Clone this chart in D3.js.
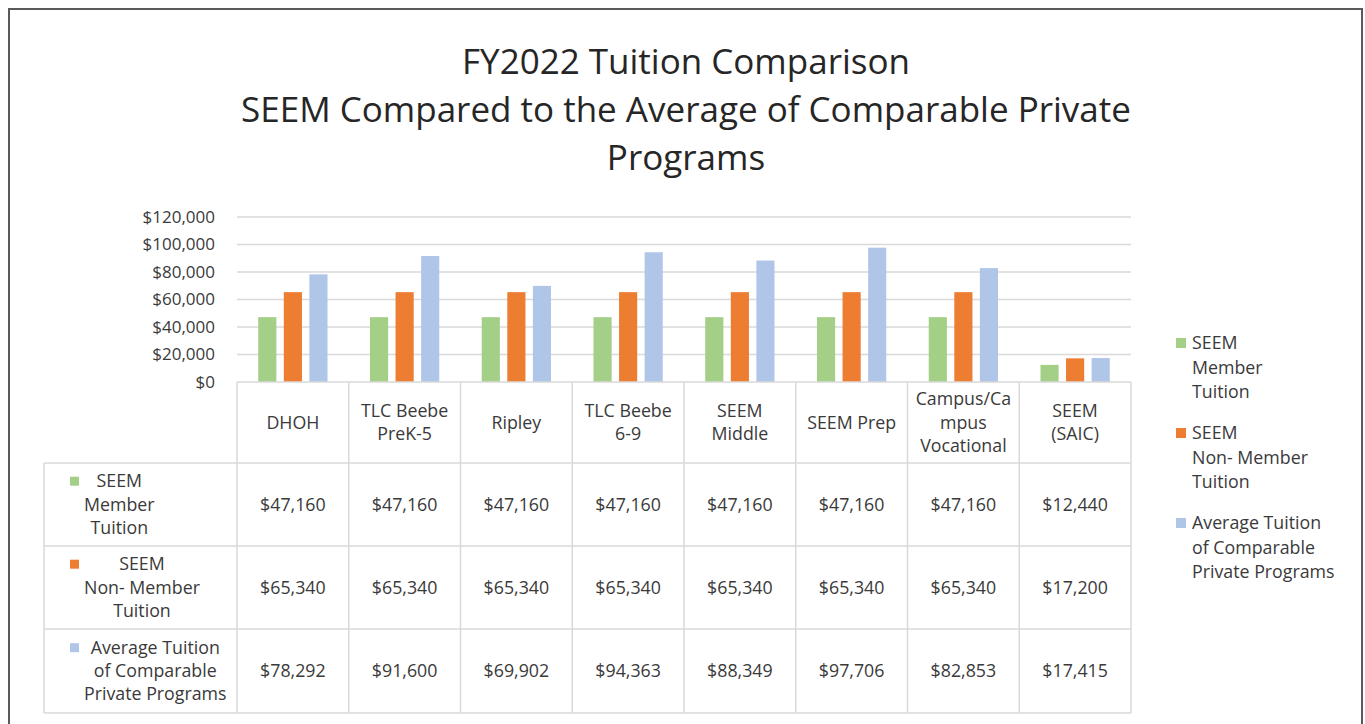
<!DOCTYPE html>
<html><head><meta charset="utf-8">
<script src="https://cdn.jsdelivr.net/npm/d3@7"></script>
<style>
html,body{margin:0;padding:0;background:#fff;}
svg{display:block;font-family:"Open Sans",Lato,sans-serif;}
</style></head><body>
<svg id="chart" width="1365" height="724"></svg>
<script>
// ---------- data ----------
const categories = ["DHOH","TLC Beebe PreK-5","Ripley","TLC Beebe 6-9","SEEM Middle","SEEM Prep","Campus/Campus Vocational","SEEM (SAIC)"];
const categoryLines = [["DHOH"],["TLC Beebe","PreK-5"],["Ripley"],["TLC Beebe","6-9"],["SEEM","Middle"],["SEEM Prep"],["Campus/Ca","mpus","Vocational"],["SEEM","(SAIC)"]];
const seriesNames = ["SEEM Member Tuition","SEEM Non- Member Tuition","Average Tuition of Comparable Private Programs"];
const seriesLines = [["SEEM","Member","Tuition"],["SEEM","Non- Member","Tuition"],["Average Tuition","of Comparable","Private Programs"]];
const memberTuition    = [47160,47160,47160,47160,47160,47160,47160,12440];
const nonMemberTuition = [65340,65340,65340,65340,65340,65340,65340,17200];
const avgPrivate       = [78292,91600,69902,94363,88349,97706,82853,17415];
const yTicks = [0,20000,40000,60000,80000,100000,120000];
const titleLines = ["FY2022 Tuition Comparison","SEEM Compared to the Average of Comparable Private","Programs"];
const colors = ["#a3cf87","#ed7d31","#b0c6e8"];

const seriesValues = [memberTuition, nonMemberTuition, avgPrivate];

// ---------- layout ----------
const svg = d3.select("#chart");
const plotL = 237, plotR = 1131, plotT = 217, plotB = 382;
const tableL = 44;
const rowBounds = [382, 463, 546, 629, 713];
const gridColor = "#d9d9d9";
const textColor = "#3a3a3a";

// outer frame
svg.append("rect").attr("x",9).attr("y",9).attr("width",1353).attr("height",740)
  .attr("fill","none").attr("stroke","#5a5a5a").attr("stroke-width",2);

// title
svg.append("g").selectAll("text").data(titleLines).join("text")
  .attr("x",686).attr("y",(d,i)=>74+i*48)
  .attr("text-anchor","middle").attr("font-size",35).attr("fill","#262626")
  .text(d=>d);

const x = d3.scaleBand().domain(categories).range([plotL, plotR]).padding(0);
const y = d3.scaleLinear().domain([0,120000]).range([plotB, plotT]);
const bw = x.bandwidth();
const inner = d3.scaleBand().domain(d3.range(3)).range([-bw*0.31, bw*0.31]).paddingInner(0.29);

// gridlines
svg.append("g").selectAll("line").data(yTicks.filter(d=>d>0)).join("line")
  .attr("x1",plotL).attr("x2",plotR).attr("y1",d=>y(d)).attr("y2",d=>y(d))
  .attr("stroke",gridColor).attr("stroke-width",1.5);

// y axis
const yAxis = svg.append("g").attr("transform",`translate(${plotL},0)`)
  .call(d3.axisLeft(y).tickValues(yTicks).tickSize(0).tickPadding(22).tickFormat(d=>"$"+d3.format(",")(d)));
yAxis.select(".domain").remove();
yAxis.selectAll("text").attr("font-size",17).attr("fill",textColor).attr("font-family","'Open Sans',Lato,sans-serif");

// bars
const rows = [];
categories.forEach((c,ci)=>seriesValues.forEach((vals,si)=>rows.push({c,si,v:vals[ci]})));
svg.append("g").selectAll("rect").data(rows).join("rect")
  .attr("x",d=>x(d.c)+bw/2+inner(d.si))
  .attr("width",inner.bandwidth())
  .attr("y",d=>y(d.v)).attr("height",d=>y(0)-y(d.v))
  .attr("fill",d=>colors[d.si]);

// table grid
const tg = svg.append("g").attr("stroke",gridColor).attr("stroke-width",1.5);
tg.append("line").attr("x1",plotL).attr("x2",plotR).attr("y1",plotB).attr("y2",plotB);
rowBounds.slice(1).forEach(yy=>tg.append("line").attr("x1",tableL).attr("x2",plotR).attr("y1",yy).attr("y2",yy));
const colBounds = categories.map(c=>x(c)).concat([plotR]);
colBounds.forEach(xx=>tg.append("line").attr("x1",xx).attr("x2",xx).attr("y1",plotB).attr("y2",rowBounds[4]));
tg.append("line").attr("x1",tableL).attr("x2",tableL).attr("y1",rowBounds[1]).attr("y2",rowBounds[4]);

const lh = 23.3;
const fs = 17.8;
// header labels
categories.forEach((c,ci)=>{
  const lines = categoryLines[ci];
  const cy = (rowBounds[0]+rowBounds[1])/2;
  svg.append("g").selectAll("text").data(lines).join("text")
    .attr("x",x(c)+bw/2)
    .attr("y",(d,i)=>cy + (i-(lines.length-1)/2)*lh + 6)
    .attr("text-anchor","middle").attr("font-size",fs).attr("fill",textColor)
    .text(d=>d);
});

// values
const fmt = d=>"$"+d3.format(",")(d);
seriesValues.forEach((vals,si)=>{
  const cy = (rowBounds[si+1]+rowBounds[si+2])/2;
  svg.append("g").selectAll("text").data(vals).join("text")
    .attr("x",(d,i)=>x(categories[i])+bw/2).attr("y",cy+6)
    .attr("text-anchor","middle").attr("font-size",fs).attr("fill",textColor)
    .text(fmt);
});

// row labels
seriesLines.forEach((lines,si)=>{
  const cy = (rowBounds[si+1]+rowBounds[si+2])/2;
  const g = svg.append("g");
  const t = g.selectAll("text").data(lines).join("text")
    .attr("y",(d,i)=>cy + (i-1)*lh + 6)
    .attr("font-size",fs).attr("fill",textColor).attr("text-anchor","middle").text(d=>d);
  let maxW = 0; t.each(function(){maxW=Math.max(maxW,this.getComputedTextLength());});
  t.attr("x",84+maxW/2);
  g.append("rect").attr("x",70).attr("y",cy-lh-4.5).attr("width",9).attr("height",9).attr("fill",colors[si]);
});

// legend
seriesLines.forEach((lines,si)=>{
  const top = 343 + si*90;
  const g = svg.append("g");
  g.append("rect").attr("x",1176).attr("y",top-5).attr("width",10).attr("height",10).attr("fill",colors[si]);
  g.selectAll("text").data(lines).join("text")
    .attr("x",1192).attr("y",(d,i)=>top+6+i*24.5)
    .attr("font-size",fs).attr("fill",textColor).text(d=>d);
});
</script>
</body></html>
